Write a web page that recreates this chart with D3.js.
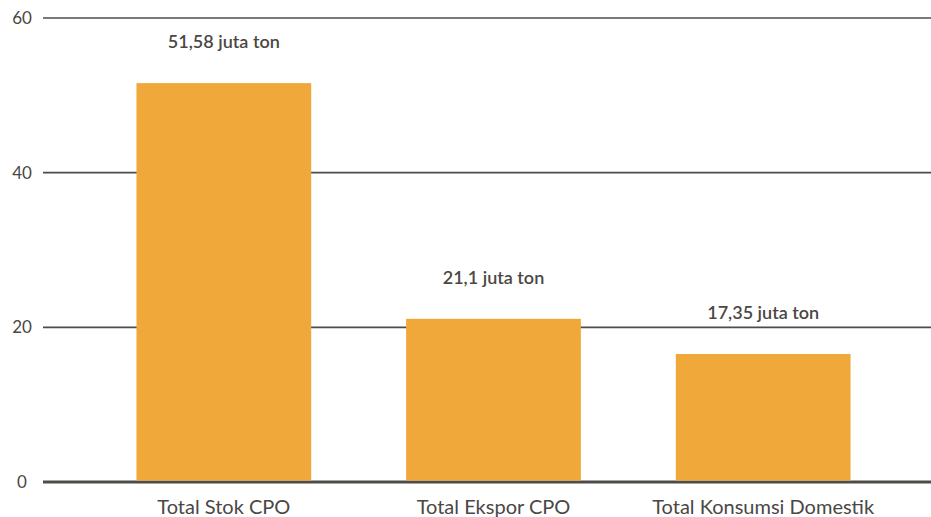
<!DOCTYPE html>
<html><head><meta charset="utf-8">
<script src="https://cdn.jsdelivr.net/npm/d3@7"></script>
<style>body{margin:0;background:#fff}svg{display:block}</style>
</head><body>
<svg id="c" width="931" height="517"></svg>
<script>
const categories = ["Total Stok CPO", "Total Ekspor CPO", "Total Konsumsi Domestik"];
const values = [51.58, 21.1, 16.55];
const valueLabels = ["51,58 juta ton", "21,1 juta ton", "17,35 juta ton"];
const yTicks = [0, 20, 40, 60];

const W = 931, H = 517;
const svg = d3.select("#c");
const y = d3.scaleLinear().domain([0, 60]).range([482, 18]);
const x = d3.scaleBand().domain(categories).range([89, 898]).paddingInner(0.352).paddingOuter(0.176);

const textColor = "#4a4744";
const font = "Lato, 'Open Sans', sans-serif";

// gridlines
svg.append("g").selectAll("line").data(yTicks).join("line")
  .attr("x1", 43).attr("x2", W)
  .attr("y1", d => y(d)).attr("y2", d => y(d))
  .attr("stroke", "#4f4b47")
  .attr("stroke-width", d => d === 0 ? 3 : 1.6);

// y tick labels
svg.append("g").selectAll("text").data(yTicks).join("text")
  .attr("x", 22).attr("y", d => y(d)).attr("dy", "0.35em")
  .attr("text-anchor", "middle")
  .attr("font-family", font).attr("font-size", 17)
  .attr("fill", textColor)
  .text(d => d);

// bars
svg.append("g").selectAll("rect").data(values).join("rect")
  .attr("x", (d, i) => x(categories[i]))
  .attr("width", x.bandwidth())
  .attr("y", d => y(d))
  .attr("height", d => y(0) - 1.5 - y(d))
  .attr("fill", "#f1a83b");

// value labels
svg.append("g").selectAll("text").data(values).join("text")
  .attr("x", (d, i) => x(categories[i]) + x.bandwidth() / 2)
  .attr("y", d => y(d) - 41).attr("dy", "0.35em")
  .attr("text-anchor", "middle")
  .attr("font-family", font).attr("font-size", 18).attr("font-weight", 600)
  .attr("fill", textColor)
  .text((d, i) => valueLabels[i]);

// category labels
svg.append("g").selectAll("text").data(categories).join("text")
  .attr("x", d => x(d) + x.bandwidth() / 2)
  .attr("y", 507).attr("dy", "0.35em")
  .attr("text-anchor", "middle")
  .attr("font-family", font).attr("font-size", 20)
  .attr("fill", textColor)
  .text(d => d);
</script>
</body></html>
